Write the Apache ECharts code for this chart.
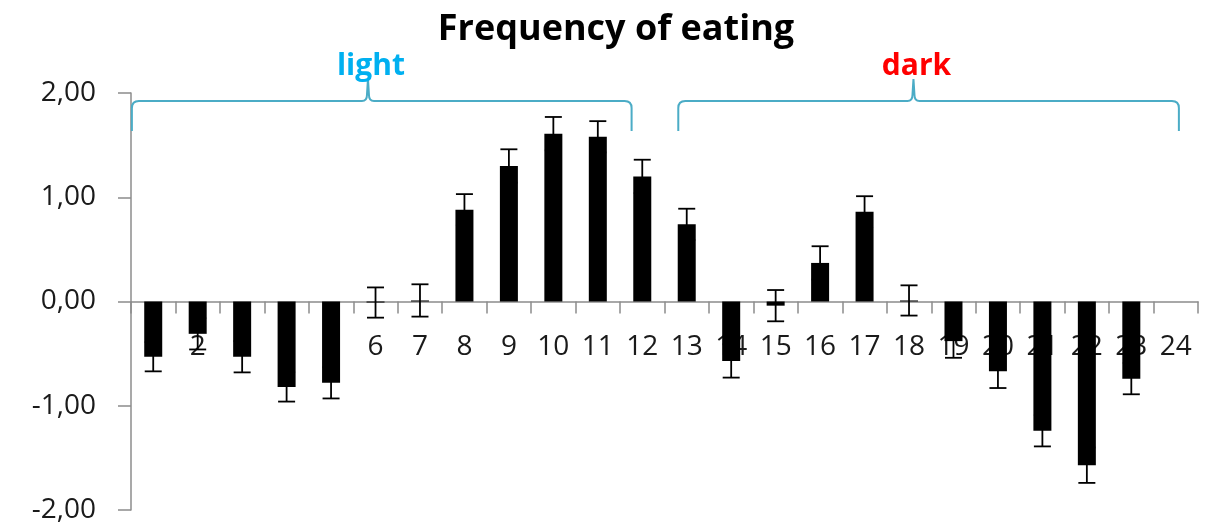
<!DOCTYPE html>
<html><head><meta charset="utf-8">
<script src="https://cdn.jsdelivr.net/npm/echarts@6/dist/echarts.min.js"></script>
<style>html,body{margin:0;padding:0;background:#fff}#c{width:1216px;height:527px}</style>
</head><body><div id="c"></div>
<script>
const categories = ['1','2','3','4','5','6','7','8','9','10','11','12','13','14','15','16','17','18','19','20','21','22','23','24'];
const means  = [-0.53,-0.31,-0.53,-0.82,-0.78,-0.01,0.01,0.88,1.30,1.61,1.58,1.20,0.74,-0.57,-0.04,0.37,0.86,0.01,-0.38,-0.67,-1.24,-1.57,-0.74,0];
const errors = [0.14,0.15,0.15,0.14,0.15,0.145,0.155,0.15,0.16,0.16,0.15,0.16,0.15,0.16,0.15,0.16,0.15,0.145,0.16,0.16,0.15,0.17,0.15,0];
const titleText = 'Frequency of eating';
const periodNames  = ['light','dark'];
const periodColors = ['#00b0f0','#ff0000'];
// brace extents in category units (0-based index of category centers)
const braceStart = [-0.48, 11.81];
const braceEnd   = [10.76, 23.07];
const bracePeak  = [4.83, 17.1];

const FONT = '"Open Sans", "Liberation Sans", sans-serif';
const chart = echarts.init(document.getElementById('c'));
const errData = means.map((m,i)=>[i, m, errors[i]]);
const labelData = categories.map((c,i)=>[i, 0]);
const periodData = periodNames.map((n,i)=>[i, 2]);

function xStep(api){ const a=api.coord([0,0]), b=api.coord([1,0]); return [a[0], b[0]-a[0]]; }

chart.setOption({
  backgroundColor:'#fff',
  animation:false,
  title:{text:titleText,left:611,textAlign:'center',top:7,
    textStyle:{fontFamily:FONT,fontWeight:'bold',fontSize:36,color:'#000'}},
  grid:{left:131,right:18,top:93,bottom:17,containLabel:false,outerBoundsMode:'none'},
  xAxis:{type:'category',data:categories,
    axisLine:{onZero:true,lineStyle:{color:'#8c8c8c',width:1.5}},
    axisTick:{show:true,length:12,lineStyle:{color:'#8c8c8c',width:1.5}},
    axisLabel:{show:false},
    splitLine:{show:false}},
  yAxis:{type:'value',min:-2,max:2,interval:1,
    axisLine:{show:true,lineStyle:{color:'#8c8c8c',width:1.5}},
    axisTick:{show:true,length:13,lineStyle:{color:'#8c8c8c',width:1.5}},
    axisLabel:{fontFamily:FONT,fontSize:28,color:'#1a1a1a',margin:35,
      formatter:v=>v.toFixed(2).replace('.',',')},
    splitLine:{show:false}},
  series:[
    {type:'custom',data:labelData,z:1,clip:false,silent:true,
      renderItem:(params,api)=>{
        const i=api.value(0); const p=api.coord([i,0]);
        return {type:'text',x:p[0],y:p[1]+46,
          style:{text:categories[i],font:'28px '+FONT,fill:'#1a1a1a',
            align:'center',verticalAlign:'middle',textAlign:'center',textVerticalAlign:'middle'}};
      }},
    {type:'bar',data:means,barWidth:18,itemStyle:{color:'#000'},z:3},
    {type:'custom',data:errData,z:4,
      renderItem:(params,api)=>{
        const x=api.value(0),v=api.value(1),e=api.value(2);
        if(!e) return null;
        const t=api.coord([x,v+e]), b=api.coord([x,v-e]);
        const h=8.5, st={stroke:'#000',lineWidth:1.8};
        return {type:'group',children:[
          {type:'line',shape:{x1:t[0],y1:t[1],x2:b[0],y2:b[1]},style:st},
          {type:'line',shape:{x1:t[0]-h,y1:t[1],x2:t[0]+h,y2:t[1]},style:st},
          {type:'line',shape:{x1:b[0]-h,y1:b[1],x2:b[0]+h,y2:b[1]},style:st}
        ]};
      }},
    {type:'custom',data:periodData,z:5,clip:false,silent:true,
      renderItem:(params,api)=>{
        const i=api.value(0);
        const [x0,step]=xStep(api);
        const X=f=>x0+f*step;
        const yTop=api.coord([0,api.value(1)])[1];
        const yLine=yTop+8, yTip=yTop+38, yPeak=yTop-14;
        const xl=X(braceStart[i]), xr=X(braceEnd[i]), xp=X(bracePeak[i]);
        const r=7, r2=6;
        const d = `M${xl} ${yTip} L${xl} ${yLine+r} Q${xl} ${yLine} ${xl+r} ${yLine} `+
          `L${xp-r2} ${yLine} Q${xp-1} ${yLine} ${xp-1} ${yLine-r2} L${xp} ${yPeak} `+
          `L${xp+1} ${yLine-r2} Q${xp+1} ${yLine} ${xp+r2} ${yLine} `+
          `L${xr-r} ${yLine} Q${xr} ${yLine} ${xr} ${yLine+r} L${xr} ${yTip}`;
        return {type:'group',children:[
          {type:'path',shape:{pathData:d},style:{fill:null,stroke:'#4bacc6',lineWidth:2}},
          {type:'text',x:xp+3,y:yTop-27,style:{text:periodNames[i],fill:periodColors[i],
            font:'bold 30px '+FONT,align:'center',verticalAlign:'middle',textAlign:'center',textVerticalAlign:'middle'}}
        ]};
      }}
  ]
});
</script></body></html>
